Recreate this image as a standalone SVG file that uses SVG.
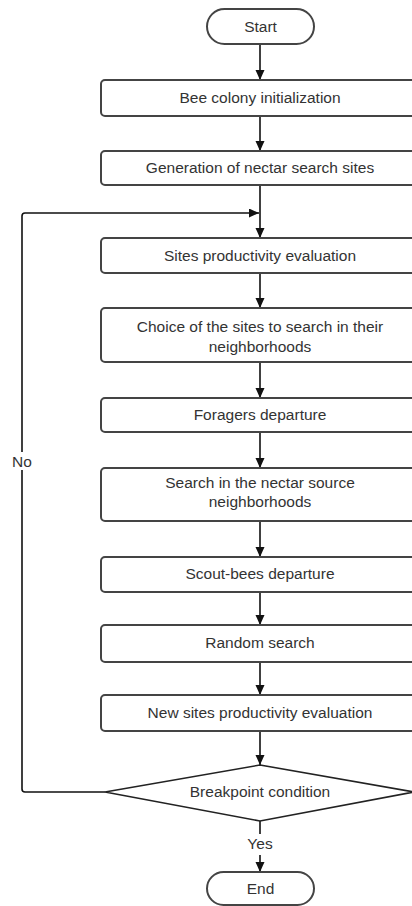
<svg xmlns="http://www.w3.org/2000/svg" width="412" height="906" viewBox="0 0 412 906">
<style>
.box{fill:#fff;stroke:#444;stroke-width:2}
.t{font-family:"Liberation Sans",Arial,sans-serif;font-size:15.5px;fill:#333;text-anchor:middle}
.c{fill:none;stroke:#111;stroke-width:1.6}
</style>
<defs>
<marker id="ah" markerUnits="userSpaceOnUse" markerWidth="10" markerHeight="10" refX="10" refY="4.5" orient="auto">
<path d="M0,0 L10,4.5 L0,9 z" fill="#111"/>
</marker>
</defs>
<rect width="412" height="906" fill="#fff"/>
<g id="connectors">
<line class="c" x1="260" y1="44" x2="260" y2="80" marker-end="url(#ah)"/>
<line class="c" x1="260" y1="116" x2="260" y2="151" marker-end="url(#ah)"/>
<line class="c" x1="260" y1="185" x2="260" y2="238" marker-end="url(#ah)"/>
<line class="c" x1="260" y1="273" x2="260" y2="308" marker-end="url(#ah)"/>
<line class="c" x1="260" y1="362" x2="260" y2="398" marker-end="url(#ah)"/>
<line class="c" x1="260" y1="432" x2="260" y2="468" marker-end="url(#ah)"/>
<line class="c" x1="260" y1="521" x2="260" y2="557" marker-end="url(#ah)"/>
<line class="c" x1="260" y1="592" x2="260" y2="625" marker-end="url(#ah)"/>
<line class="c" x1="260" y1="662" x2="260" y2="695" marker-end="url(#ah)"/>
<line class="c" x1="260" y1="731" x2="260" y2="765" marker-end="url(#ah)"/>
<path class="c" d="M105,792 H25 Q22,792 22,789 V470 M22,452 V216 Q22,213 25,213 H259" marker-end="url(#ah)"/>
<text class="t" x="22" y="467">No</text>
<path class="c" d="M260,821 V834 M260,855 V872" marker-end="url(#ah)"/>
<text class="t" x="260" y="849">Yes</text>
</g>
<g id="start">
<rect class="box" x="207" y="9" width="107" height="35" rx="17.5"/>
<text class="t" x="260.5" y="32">Start</text>
</g>
<g id="n1">
<rect class="box" x="101" y="80" width="318" height="36" rx="4"/>
<text class="t" x="260" y="103">Bee colony initialization</text>
</g>
<g id="n2">
<rect class="box" x="101" y="151" width="318" height="34" rx="4"/>
<text class="t" x="260" y="173">Generation of nectar search sites</text>
</g>
<g id="n3">
<rect class="box" x="101" y="238" width="318" height="35" rx="4"/>
<text class="t" x="260" y="261">Sites productivity evaluation</text>
</g>
<g id="n4">
<rect class="box" x="101" y="308" width="318" height="54" rx="4"/>
<text class="t" x="260" y="332">Choice of the sites to search in their</text>
<text class="t" x="260" y="352">neighborhoods</text>
</g>
<g id="n5">
<rect class="box" x="101" y="398" width="318" height="34" rx="4"/>
<text class="t" x="260" y="420">Foragers departure</text>
</g>
<g id="n6">
<rect class="box" x="101" y="468" width="318" height="53" rx="4"/>
<text class="t" x="260" y="488">Search in the nectar source</text>
<text class="t" x="260" y="507">neighborhoods</text>
</g>
<g id="n7">
<rect class="box" x="101" y="557" width="318" height="35" rx="4"/>
<text class="t" x="260" y="579">Scout-bees departure</text>
</g>
<g id="n8">
<rect class="box" x="101" y="625" width="318" height="37" rx="4"/>
<text class="t" x="260" y="648">Random search</text>
</g>
<g id="n9">
<rect class="box" x="101" y="695" width="318" height="36" rx="4"/>
<text class="t" x="260" y="718">New sites productivity evaluation</text>
</g>
<g id="decision">
<polygon points="260,765 414,792 260,821 105,792" fill="#fff" stroke="#222" stroke-width="1.6"/>
<text class="t" x="260" y="797">Breakpoint condition</text>
</g>
<g id="end">
<rect class="box" x="207" y="872" width="107" height="33" rx="16.5"/>
<text class="t" x="260.5" y="894">End</text>
</g>
</svg>
